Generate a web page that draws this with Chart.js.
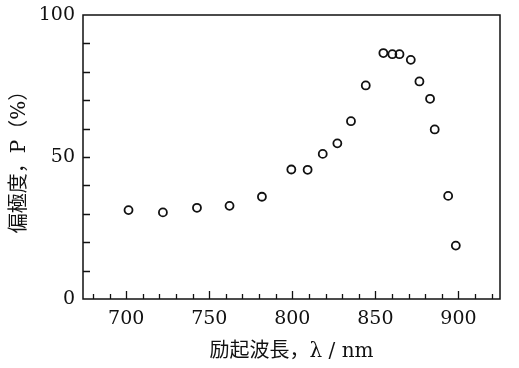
<!DOCTYPE html>
<html><head><meta charset="utf-8">
<script src="https://cdn.jsdelivr.net/npm/chart.js@4/dist/chart.umd.min.js"></script>
<style>html,body{margin:0;padding:0;background:#fff}#wrap{width:519px;height:368px}</style>
</head><body><div id="wrap"><canvas id="c" width="519" height="368"></canvas></div>
<script>
const wavelengths = [701.4, 722.1, 742.6, 762.2, 781.7, 799.4, 809.2, 818.3, 827.1, 835.3, 844.2, 854.8, 860.2, 864.5, 871.3, 876.5, 882.9, 885.7, 893.8, 898.4];
const polarization = [31.3, 30.5, 32.1, 32.8, 36.0, 45.6, 45.5, 51.1, 54.8, 62.6, 75.2, 86.6, 86.2, 86.2, 84.2, 76.6, 70.5, 59.7, 36.3, 18.8];
const xTickLabels = [700, 750, 800, 850, 900];
const yTickLabels = [0, 50, 100];
const xMinorTicks = [680,690,700,710,720,730,740,750,760,770,780,790,800,810,820,830,840,850,860,870,880,890,900,910,920];
const yMinorTicks = [10,20,30,40,50,60,70,80,90];
const xTitle = '励起波長，λ / nm';
const yTitle = '偏極度，P（%）';

const SERIF = '"DejaVu Serif", "Noto Sans CJK JP", serif';

const frame = {
  id: 'frame',
  afterDraw(chart) {
    const ctx = chart.ctx, a = chart.chartArea;
    const xs = chart.scales.x, ys = chart.scales.y;
    ctx.save();
    ctx.strokeStyle = '#111';
    ctx.lineWidth = 1.5;
    ctx.strokeRect(a.left, a.top, a.right - a.left, a.bottom - a.top);
    ctx.lineWidth = 1.3;
    ctx.beginPath();
    xMinorTicks.forEach(v => {
      const px = Math.round(xs.getPixelForValue(v)) + 0.5;
      const len = xTickLabels.includes(v) ? 8 : 5;
      ctx.moveTo(px, a.bottom); ctx.lineTo(px, a.bottom - len);
    });
    yMinorTicks.forEach(v => {
      const py = Math.round(ys.getPixelForValue(v)) + 0.5;
      ctx.moveTo(a.left, py); ctx.lineTo(a.left + 7, py);
    });
    ctx.stroke();
    ctx.restore();
  }
};

new Chart(document.getElementById('c'), {
  type: 'scatter',
  data: { datasets: [{
    data: wavelengths.map((x, i) => ({ x, y: polarization[i] })),
    pointStyle: 'circle', pointRadius: 4, pointBorderWidth: 1.8,
    borderColor: '#111', backgroundColor: 'rgba(255,255,255,0)',
    pointHoverRadius: 4
  }]},
  options: {
    responsive: false, animation: false,
    layout: { padding: { top: 15, right: 19, left: 0, bottom: 0 } },
    plugins: { legend: { display: false }, tooltip: { enabled: false } },
    scales: {
      x: {
        type: 'linear', min: 674, max: 925,
        afterBuildTicks: s => { s.ticks = xTickLabels.map(v => ({ value: v })); },
        afterFit: s => { s.height = 69; s.paddingLeft = 0; s.paddingRight = 0; },
        grid: { display: false, drawTicks: false },
        border: { display: false },
        ticks: { color: '#111', font: { family: SERIF, size: 19 }, padding: 9, maxRotation: 0 },
        title: { display: true, text: xTitle, color: '#111', font: { family: SERIF, size: 20 }, padding: { top: 2, bottom: 4 } }
      },
      y: {
        type: 'linear', min: 0, max: 100,
        afterBuildTicks: s => { s.ticks = yTickLabels.map(v => ({ value: v })); },
        afterFit: s => { s.width = 83; s.paddingTop = 0; s.paddingBottom = 0; },
        grid: { display: false, drawTicks: false },
        border: { display: false },
        ticks: { color: '#111', font: { family: SERIF, size: 19 }, padding: 8 },
        title: { display: true, text: yTitle, color: '#111', font: { family: SERIF, size: 20 }, padding: { top: 8, bottom: 4 } }
      }
    }
  },
  plugins: [frame]
});
</script></body></html>
